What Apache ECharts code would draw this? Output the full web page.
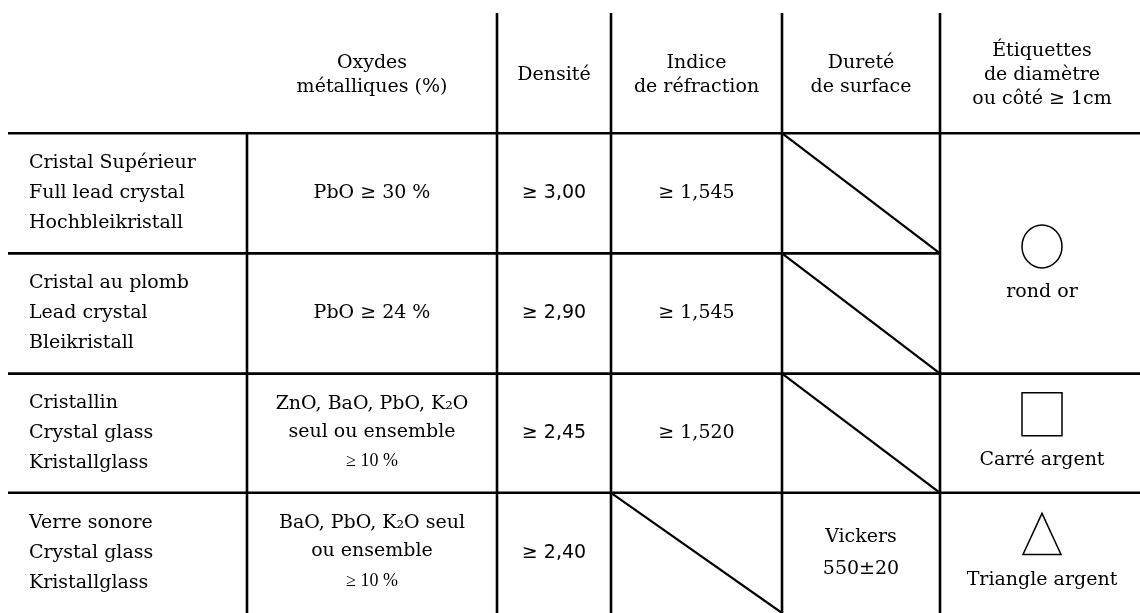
<!DOCTYPE html>
<html>
<head>
<meta charset="utf-8">
<script src="https://cdn.jsdelivr.net/npm/echarts@6/dist/echarts.min.js"></script>
<style>
html, body { margin: 0; padding: 0; background: #fff; }
#chart { width: 1140px; height: 613px; }
</style>
</head>
<body>
<div id="chart"></div>
<script>
// contenu du tableau
var headers = ['', 'Oxydes\nmétalliques (%)', 'Densité', 'Indice\nde réfraction', 'Dureté\nde surface', 'Étiquettes\nde diamètre\nou côté ≥ 1cm'];
var verres = [
  'Cristal Supérieur\nFull lead crystal\nHochbleikristall',
  'Cristal au plomb\nLead crystal\nBleikristall',
  'Cristallin\nCrystal glass\nKristallglass',
  'Verre sonore\nCrystal glass\nKristallglass'
];
var oxydes = [
  'PbO ≥ 30 %',
  'PbO ≥ 24 %',
  'ZnO, BaO, PbO, K₂O\nseul ou ensemble\n{p|≥ 10 %}',
  'BaO, PbO, K₂O seul\nou ensemble\n{p|≥ 10 %}'
];
var densite = ['≥ 3,00', '≥ 2,90', '≥ 2,45', '≥ 2,40'];
var indice = ['≥ 1,545', '≥ 1,545', '≥ 1,520', null];   // null = case barrée
var durete = [null, null, null, 'Vickers\n550±20'];
var etiquettes = ['rond or', 'Carré argent', 'Triangle argent'];
var etiquetteSymboles = ['circle', 'square', 'triangle'];
var etiquetteLignes = [[1, 2], [3, 3], [4, 4]];

// mise en page (unités de la grille = pixels)
var colEdges = [0, 239, 489, 603, 774, 932, 1136];
var rowEdges = [0, 121, 242, 363, 483, 604];
var tableW = 1132;
var etiquetteDecalage = [12, 0, 0];

var serif = 'DejaVu Serif';
var ink = '#000';
var cells = [];
headers.forEach(function (h, c) {
  cells.push({ col: c, r0: 0, r1: 0, text: h, kind: 'header' });
});
verres.forEach(function (v, i) {
  var r = i + 1;
  cells.push({ col: 0, r0: r, r1: r, text: v, kind: 'name' });
  cells.push({ col: 1, r0: r, r1: r, text: oxydes[i], kind: 'oxyde' });
  cells.push({ col: 2, r0: r, r1: r, text: densite[i], kind: 'densite' });
  cells.push({ col: 3, r0: r, r1: r, text: indice[i], kind: 'serif' });
  cells.push({ col: 4, r0: r, r1: r, text: durete[i], kind: 'serif' });
});
etiquettes.forEach(function (t, i) {
  cells.push({ col: 5, r0: etiquetteLignes[i][0], r1: etiquetteLignes[i][1], text: t, kind: 'etiquette', idx: i });
});

var lineStyle = { stroke: ink, lineWidth: 2.6 };
var markStyle = { fill: 'none', stroke: ink, lineWidth: 1.5 };

function renderCell(params, api) {
  var cell = cells[params.dataIndex];
  var tl = api.coord([colEdges[api.value(0)], rowEdges[api.value(1)]]);
  var br = api.coord([colEdges[api.value(0) + 1], rowEdges[api.value(2) + 1]]);
  var right = cell.col === 5 ? api.coord([tableW, 0])[0] : br[0];
  var cx = (tl[0] + br[0]) / 2;
  var cy = (tl[1] + br[1]) / 2;
  var children = [];

  if (cell.r0 > 0) {
    children.push({ type: 'line', shape: { x1: tl[0], y1: tl[1], x2: right, y2: tl[1] }, style: lineStyle });
  }
  if (cell.col > 0 && !(cell.r0 === 0 && cell.col === 1)) {
    children.push({ type: 'line', shape: { x1: tl[0], y1: tl[1], x2: tl[0], y2: br[1] }, style: lineStyle });
  }

  if (cell.text == null) {
    children.push({ type: 'line', shape: { x1: tl[0], y1: tl[1], x2: br[0], y2: br[1] }, style: { stroke: ink, lineWidth: 2.2 } });
    return { type: 'group', children: children };
  }

  var st = { text: cell.text, x: cx, y: cy, align: 'center', verticalAlign: 'middle', fill: ink, fontFamily: serif, fontSize: 19, lineHeight: 30 };
  if (cell.kind === 'header') {
    st.lineHeight = 24;
    st.y = cy + 2;
  } else if (cell.kind === 'name') {
    st.x = tl[0] + 21;
    st.align = 'left';
  } else if (cell.kind === 'oxyde') {
    st.lineHeight = 28;
    st.rich = { p: { fontFamily: 'Liberation Serif', fontSize: 18, lineHeight: 31, fill: ink } };
  } else if (cell.kind === 'densite') {
    st.fontFamily = 'DejaVu Sans';
  } else if (cell.kind === 'serif') {
    st.lineHeight = 32;
  } else if (cell.kind === 'etiquette') {
    var sy = cy - 19 + etiquetteDecalage[cell.idx];
    st.y = cy + 27 + etiquetteDecalage[cell.idx];
    var sym = etiquetteSymboles[cell.idx];
    if (sym === 'circle') {
      children.push({ type: 'ellipse', shape: { cx: cx, cy: sy, rx: 20, ry: 21.5 }, style: markStyle });
    } else if (sym === 'square') {
      children.push({ type: 'rect', shape: { x: cx - 20, y: sy - 21.5, width: 40, height: 43 }, style: markStyle });
    } else {
      children.push({ type: 'polygon', shape: { points: [[cx, sy - 20.5], [cx - 19, sy + 20.5], [cx + 19, sy + 20.5]] }, style: markStyle });
    }
  }
  children.push({ type: 'text', style: st });
  return { type: 'group', children: children };
}

var chart = echarts.init(document.getElementById('chart'));
chart.setOption({
  animation: false,
  backgroundColor: '#fff',
  grid: { left: 8, top: 13, width: tableW, height: rowEdges[rowEdges.length - 1] },
  xAxis: { type: 'value', min: 0, max: tableW, show: false },
  yAxis: { type: 'value', min: 0, max: rowEdges[rowEdges.length - 1], inverse: true, show: false },
  series: [{
    type: 'custom',
    renderItem: renderCell,
    data: cells.map(function (c) { return [c.col, c.r0, c.r1]; })
  }]
});
</script>
</body>
</html>
